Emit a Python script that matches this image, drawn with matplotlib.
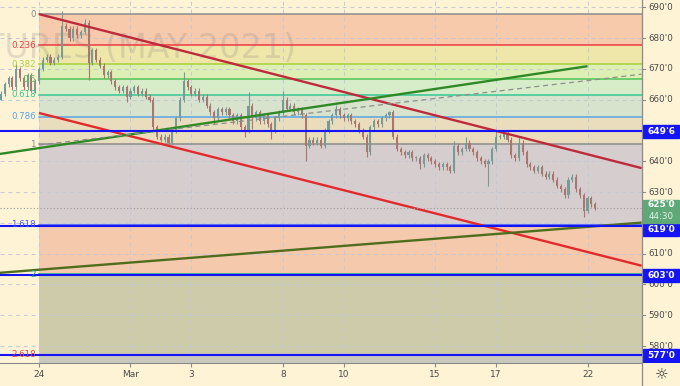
"""Corn futures (May 2021) 30m-style chart with fib extension, trend lines and levels."""
import matplotlib
matplotlib.use("Agg")
import matplotlib.pyplot as plt
from matplotlib.lines import Line2D
from matplotlib.patches import Rectangle
import numpy as np

W, H = 680, 386
BG = "#FFF3D6"

# ---------------- data ----------------
# closes, 8 bars per trading day, first bar = late Feb 23
closes = [662, 665, 667, 664, 670, 667, 664, 668, 663, 666,
          670, 673, 674, 672, 673, 674, 684, 683, 680, 683,
          681, 682, 685, 672, 676, 673, 671, 668, 669, 666,
          664, 663, 664, 661, 663, 664, 662, 663, 661, 660,
          651, 648, 647, 648, 646, 650, 654, 660, 666, 664,
          662, 663, 660, 661, 658, 656, 654, 657, 656, 657,
          655, 653, 655, 651, 650, 658, 654, 656, 653, 655,
          652, 650, 654, 656, 660, 657, 658, 656, 657, 655,
          645, 647, 646, 647, 645, 650, 653, 655, 657, 655,
          654, 655, 653, 652, 650, 648, 643, 651, 653, 652,
          654, 655, 656, 648, 644, 643, 642, 643, 641, 641,
          639, 642, 641, 640, 639, 638, 639, 638, 637, 645,
          643, 644, 646, 644, 643, 641, 640, 639, 640, 644,
          648, 648, 649, 647, 642, 641, 646, 643, 639, 638,
          637, 638, 636, 635, 636, 634, 632, 631, 629, 634,
          635, 631, 629, 624, 628, 626, 625]
first_open = 660
high_ext = {4: 671.5, 16: 688.7, 22: 686.2, 48: 669.0, 65: 662.4, 74: 662.7,
            88: 658.2, 102: 656.5, 119: 646.5, 122: 647.9, 130: 649.9, 136: 647.9}
low_ext = {0: 660.0, 8: 662.5, 23: 666.5, 33: 659.2, 44: 645.5, 56: 652.0,
           64: 647.8, 66: 650.4, 71: 647.2, 80: 640.0, 84: 644.2, 96: 641.3,
           110: 637.4, 128: 631.9, 153: 621.8}

date_ticks = [10, 34, 50, 74, 90, 114, 130, 154]
date_labels = ["24", "Mar", "3", "8", "10", "15", "17", "22"]

fib_start = 10
fib_a, fib_b = 687.75, 645.5
fib_levels = [0, 0.236, 0.382, 0.5, 0.618, 0.786, 1, 1.618, 2, 2.618, 3.618]
fib_labels = ["0", "0.236", "0.382", "0.5", "0.618", "0.786", "1", "1.618", "2", "2.618"]
fib_line_colors = ["#8C8C8C", "#EE3A42", "#A6D23A", "#55C255", "#35C797", "#56A6E6",
                   "#8C8C8C", "#3D5AFE", "#12A88A", "#EE3A42"]
fib_fill_colors = ["#F6CAAA", "#EFE7AA", "#DDEFB4", "#D7ECC8", "#D8E3CE", "#E9DDBD",
                   "#D6CDCE", "#F5C9AB", "#CDCBAA", "#C9C8BD"]

levels = [649.75, 619.0, 603.0, 577.0]
level_labels = ["649'6", "619'0", "603'0", "577'0"]
level_label_y = [649.75, 617.7, 603.0, 577.0]
last_price, last_label, countdown = 625.0, "625'0", "44:30"

price_ticks = [690, 680, 670, 660, 640, 630, 610, 600, 590, 580]

# trend lines: (x0, y0, x1, y1)
red_upper = (10, 687.8, 168.2, 637.8)
red_lower = (10, 655.7, 168.2, 606.1)
green_upper = (-0.3, 642.4, 154.0, 670.9)
green_lower = (-0.3, 603.8, 168.2, 620.1)
gray_dash = (10, 645.3, 168.2, 668.3)

XLIM = (-0.25, 168.3)
YLIM = (574.5, 692.4)

# ---------------- figure ----------------
fig = plt.figure(figsize=(W / 100, H / 100), dpi=100, facecolor=BG)
ax = fig.add_axes([0, 23 / H, 642 / W, 363 / H], facecolor=BG)
pax = fig.add_axes([642 / W, 23 / H, 38 / W, 363 / H], facecolor=BG)
ax.set_xlim(*XLIM); ax.set_ylim(*YLIM)
pax.set_xlim(0, 38); pax.set_ylim(*YLIM); pax.axis("off")

# grid
for p in range(580, 700, 10):
    ax.axhline(p, color="#C4C8D6", lw=0.7, ls=(0, (4, 4)), zorder=1.5)
for t in date_ticks:
    ax.axvline(t, color="#C4C8D6", lw=0.7, ls=(0, (4, 4)), zorder=1.5)

# fib bands
rng = fib_b - fib_a
for k in range(len(fib_levels) - 1):
    y0 = fib_a + fib_levels[k] * rng
    y1 = fib_a + fib_levels[k + 1] * rng
    ax.fill_between([fib_start, XLIM[1]], y0, y1, color=fib_fill_colors[k], lw=0, zorder=1)
for lv, lab, c in zip(fib_levels, fib_labels, fib_line_colors):
    y = fib_a + lv * rng
    ax.plot([fib_start, XLIM[1]], [y, y], color=c, lw=1.1, zorder=2)
    ax.text(fib_start - 0.9, y, lab, color=c, fontsize=6.2, ha="right", va="center", zorder=6)

# watermark (cut at the left edge, as in the source)
ax.text(77.4, 676.8, "CORN FUTURES (MAY 2021)", fontsize=24, color="#808080",
        alpha=0.22, ha="right", va="center", zorder=1.8)

# candles
n = len(closes)
x = np.arange(n)
opens = [first_open] + closes[:-1]
up_c, dn_c = "#779C98", "#A97770"
for i in range(n):
    o, c = opens[i], closes[i]
    hi = high_ext.get(i, max(o, c) + 0.8)
    lo = low_ext.get(i, min(o, c) - 0.8)
    col = up_c if c >= o else dn_c
    ax.vlines(x[i], lo, hi, color=col, lw=0.8, zorder=3)
    ax.bar(x[i], max(abs(c - o), 0.35), bottom=min(o, c), width=0.55, color=col, lw=0, zorder=3)

# trend lines
for (x0, y0, x1, y1), c, ls, lw in [
        (red_upper, "#BE2A3C", "-", 1.7),
        (red_lower, "#E22A2C", "-", 1.7),
        (green_upper, "#2F8A26", "-", 1.7),
        (green_lower, "#4E6E1E", "-", 1.7),
        (gray_dash, "#8E8E8E", (0, (4, 3)), 0.9)]:
    ax.plot([x0, x1], [y0, y1], color=c, lw=lw, ls=ls, zorder=4, solid_capstyle="butt")

# horizontal levels
for lv in levels:
    ax.axhline(lv, color="#1414F5", lw=1.5, zorder=4.5)
ax.axhline(last_price, color="#9A9A9A", lw=0.8, ls=(0, (1, 2)), zorder=4.4)

# axes styling
for s in ("top", "left", "right"):
    ax.spines[s].set_visible(False)
ax.spines["bottom"].set_color("#8A8A8A")
ax.set_yticks([])
ax.set_xticks(date_ticks)
ax.set_xticklabels(date_labels, fontsize=6.5, color="#4A4A4A")
ax.tick_params(axis="x", length=3, width=0.8, color="#8A8A8A", pad=2)
fig.add_artist(Line2D([642 / W] * 2, [0, 1], color="#8A8A8A", lw=0.9))

# price scale
for p in price_ticks:
    pax.plot([0, 3], [p, p], color="#8A8A8A", lw=0.8)
    pax.text(6, p, f"{p}'0", fontsize=6.3, color="#4A4A4A", va="center", ha="left")
for ly, lab in zip(level_label_y, level_labels):
    pax.add_patch(Rectangle((1, ly - 2.1), 36, 4.2, color="#1414F5", zorder=5))
    pax.text(19, ly, lab, color="white", fontsize=6.5, fontweight="bold",
             ha="center", va="center", zorder=6)
pax.add_patch(Rectangle((1, last_price - 4.9), 36, 7.5, color="#5FA878", zorder=5))
pax.text(19, last_price + 0.9, last_label, color="white", fontsize=6.5, fontweight="bold",
         ha="center", va="center", zorder=6)
pax.text(19, last_price - 2.8, countdown, color="#E4F2E8", fontsize=6.3,
         ha="center", va="center", zorder=6)

fig.text(662 / W, 1 - 375 / H, "\u263c", fontsize=11, color="#333333", ha="center", va="center")

fig.savefig("out.png", dpi=100, facecolor=BG)
